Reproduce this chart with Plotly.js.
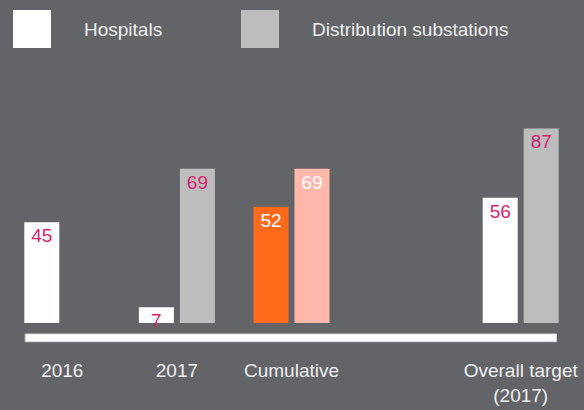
<!DOCTYPE html>
<html>
<head>
<meta charset="utf-8">
<script src="https://cdn.plot.ly/plotly-3.0.1.min.js"></script>
<style>
html,body{margin:0;padding:0;background:#636468;}
#chart{width:584px;height:410px;}
</style>
</head>
<body>
<div id="chart"></div>
<script>
// ---- data ----
const categories = ["2016", "2017", "Cumulative", " ", "Overall target<br>(2017)"];
const seriesNames = ["Hospitals", "Distribution substations"];
const hospitals = [45, 7, 52, null, 56];
const substations = [null, 69, 69, null, 87];

// ---- styles ----
const BG = "#636468";
const TEXT = "#f0f0f0";
const CRIMSON = "#d91f6e";
const hospColors = ["#ffffff", "#ffffff", "#ff6a1b", "#ffffff", "#ffffff"];
const hospLabelColors = [CRIMSON, CRIMSON, "#ffffff", CRIMSON, CRIMSON];
const subColors = ["#bdbdbd", "#bdbdbd", "#ffb8a9", "#bdbdbd", "#bdbdbd"];
const subLabelColors = [CRIMSON, CRIMSON, "#ffffff", CRIMSON, CRIMSON];
const FONT = "Liberation Sans, Arial, Helvetica, sans-serif";

function lbl(arr){ return arr.map(v => v === null ? "" : String(v)); }

const common = {
  type: "bar",
  x: categories,
  textposition: "inside",
  insidetextanchor: "end",
  textangle: 0,
  constraintext: "none",
  cliponaxis: false,
  hoverinfo: "skip",
  showlegend: false
};

const traces = [
  Object.assign({}, common, {
    name: seriesNames[0], y: hospitals, text: lbl(hospitals),
    marker: {color: hospColors, line: {width: 0}},
    textfont: {family: FONT, size: 19, color: hospLabelColors}
  }),
  Object.assign({}, common, {
    name: seriesNames[1], y: substations, text: lbl(substations),
    marker: {color: subColors, line: {width: 0}},
    textfont: {family: FONT, size: 19, color: subLabelColors}
  })
];

const legendColors = [hospColors[0], subColors[0]];
const legendOffsets = [8, 236];   // px from plot left
const shapes = [];
const annotations = [];
seriesNames.forEach((n, i) => {
  shapes.push({
    type: "rect", xref: "paper", yref: "paper",
    xsizemode: "pixel", ysizemode: "pixel", xanchor: 0, yanchor: 1,
    x0: legendOffsets[i], x1: legendOffsets[i] + 38, y0: 29, y1: 67,
    fillcolor: legendColors[i], line: {width: 0}
  });
  annotations.push({
    text: n, xref: "paper", yref: "paper", x: 0, y: 1,
    xanchor: "left", yanchor: "middle", xshift: legendOffsets[i] + 69, yshift: 48,
    showarrow: false, font: {family: FONT, size: 19, color: TEXT}
  });
});
// baseline bar
shapes.push({
  type: "rect", xref: "paper", yref: "paper",
  x0: 0.0353, x1: 0.9625, y0: -0.076, y1: -0.0447,
  fillcolor: "#ffffff", line: {color: "#d6d6d6", width: 1}
});

const layout = {
  width: 584, height: 410,
  paper_bgcolor: BG, plot_bgcolor: BG,
  margin: {l: 5, r: 6, t: 77, b: 87},
  barmode: "group",
  bargap: 0.2845,
  bargroupgap: 0.146,
  font: {family: FONT, color: TEXT, size: 19},
  xaxis: {
    type: "category", categoryorder: "array", categoryarray: categories,
    showgrid: false, zeroline: false, showline: false,
    ticks: "outside", ticklen: 30, tickcolor: "rgba(0,0,0,0)",
    tickfont: {family: FONT, size: 19, color: TEXT},
    fixedrange: true
  },
  yaxis: {
    range: [0, 110], visible: false, showgrid: false, zeroline: false, fixedrange: true
  },
  shapes: shapes,
  annotations: annotations
};

Plotly.newPlot("chart", traces, layout, {displayModeBar: false, staticPlot: true});
</script>
</body>
</html>
